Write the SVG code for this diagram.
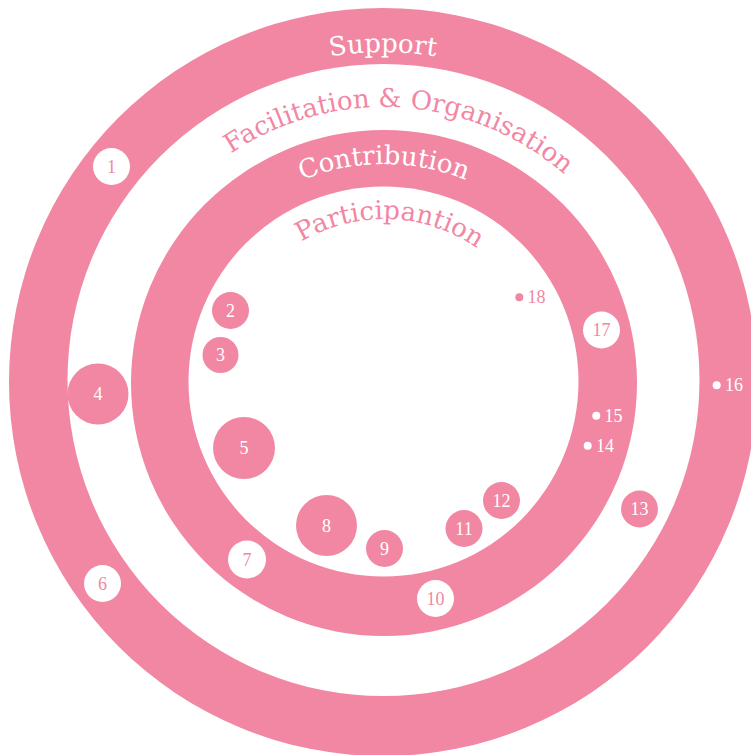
<svg xmlns="http://www.w3.org/2000/svg" width="751" height="755" viewBox="0 0 751 755">
  <defs>
    <style>
      .pink { fill: #f287a3; }
      .white { fill: #ffffff; }
      .ring-label { font-family: "DejaVu Serif", "Liberation Serif", serif; font-size: 26px; }
      .num { font-family: "Liberation Serif", "DejaVu Serif", serif; font-size: 18px; text-anchor: middle; }
      .num-side { font-family: "Liberation Serif", "DejaVu Serif", serif; font-size: 18px; }
      .t-white { fill: #ffffff; }
      .t-pink { fill: #f287a3; }
    </style>
    <path id="arc-support" d="M 53 382 A 330 330 0 0 1 713 382"/>
    <path id="arc-facilitation" d="M 109 382 A 275 275 0 0 1 659 382"/>
    <path id="arc-contribution" d="M 166 382 A 218 218 0 0 1 602 382"/>
    <path id="arc-participation" d="M 221 382 A 163 163 0 0 1 547 382"/>
  </defs>
  <rect width="751" height="755" fill="#ffffff"/>

  <g id="ring-support">
    <circle class="pink" cx="383" cy="382" r="374"/>
    <text class="ring-label t-white"><textPath href="#arc-support" startOffset="50%" text-anchor="middle">Support</textPath></text>
  </g>
  <g id="ring-facilitation">
    <circle class="white" cx="383.5" cy="380" r="316"/>
    <text class="ring-label t-pink"><textPath href="#arc-facilitation" startOffset="449" text-anchor="middle">Facilitation &amp; Organisation</textPath></text>
  </g>
  <g id="ring-contribution">
    <circle class="pink" cx="384" cy="383" r="253"/>
    <text class="ring-label t-white"><textPath href="#arc-contribution" startOffset="50%" text-anchor="middle">Contribution</textPath></text>
  </g>
  <g id="ring-participation">
    <circle class="white" cx="383.5" cy="381.5" r="195"/>
    <text class="ring-label t-pink"><textPath href="#arc-participation" startOffset="262" text-anchor="middle">Participantion</textPath></text>
  </g>

  <g id="connectors"/>

  <g id="node-1"><circle class="white" cx="111.5" cy="166.5" r="18.5"/><text class="num t-pink" x="111.5" y="172.5">1</text></g>
  <g id="node-2"><circle class="pink" cx="230.5" cy="310.5" r="18.5"/><text class="num t-white" x="230.5" y="316.5">2</text></g>
  <g id="node-3"><circle class="pink" cx="220.5" cy="355" r="18"/><text class="num t-white" x="220.5" y="361">3</text></g>
  <g id="node-4"><circle class="pink" cx="98" cy="394" r="30.5"/><text class="num t-white" x="98" y="400">4</text></g>
  <g id="node-5"><circle class="pink" cx="244" cy="448" r="31"/><text class="num t-white" x="244" y="454">5</text></g>
  <g id="node-6"><circle class="white" cx="102.5" cy="583.5" r="18.5"/><text class="num t-pink" x="102.5" y="589.5">6</text></g>
  <g id="node-7"><circle class="white" cx="247" cy="559.5" r="19"/><text class="num t-pink" x="247" y="565.5">7</text></g>
  <g id="node-8"><circle class="pink" cx="326.5" cy="525.5" r="30.5"/><text class="num t-white" x="326.5" y="531.5">8</text></g>
  <g id="node-9"><circle class="pink" cx="384.5" cy="548.5" r="18.5"/><text class="num t-white" x="384.5" y="554.5">9</text></g>
  <g id="node-10"><circle class="white" cx="435.5" cy="598.5" r="18.5"/><text class="num t-pink" x="435.5" y="604.5">10</text></g>
  <g id="node-11"><circle class="pink" cx="464" cy="528.5" r="18.5"/><text class="num t-white" x="464" y="534.5">11</text></g>
  <g id="node-12"><circle class="pink" cx="501.5" cy="500.5" r="18.5"/><text class="num t-white" x="501.5" y="506.5">12</text></g>
  <g id="node-13"><circle class="pink" cx="639.5" cy="509" r="18.5"/><text class="num t-white" x="639.5" y="515">13</text></g>
  <g id="node-14"><circle class="white" cx="587.7" cy="445.7" r="4"/><text class="num-side t-white" x="596" y="451.5">14</text></g>
  <g id="node-15"><circle class="white" cx="596.3" cy="415.7" r="4"/><text class="num-side t-white" x="604.5" y="421.5">15</text></g>
  <g id="node-16"><circle class="white" cx="716.7" cy="385.3" r="4"/><text class="num-side t-white" x="725" y="391">16</text></g>
  <g id="node-17"><circle class="white" cx="601.5" cy="330" r="18.5"/><text class="num t-pink" x="601.5" y="336">17</text></g>
  <g id="node-18"><circle class="pink" cx="519.3" cy="297.3" r="4"/><text class="num-side t-pink" x="527.5" y="303">18</text></g>
</svg>
